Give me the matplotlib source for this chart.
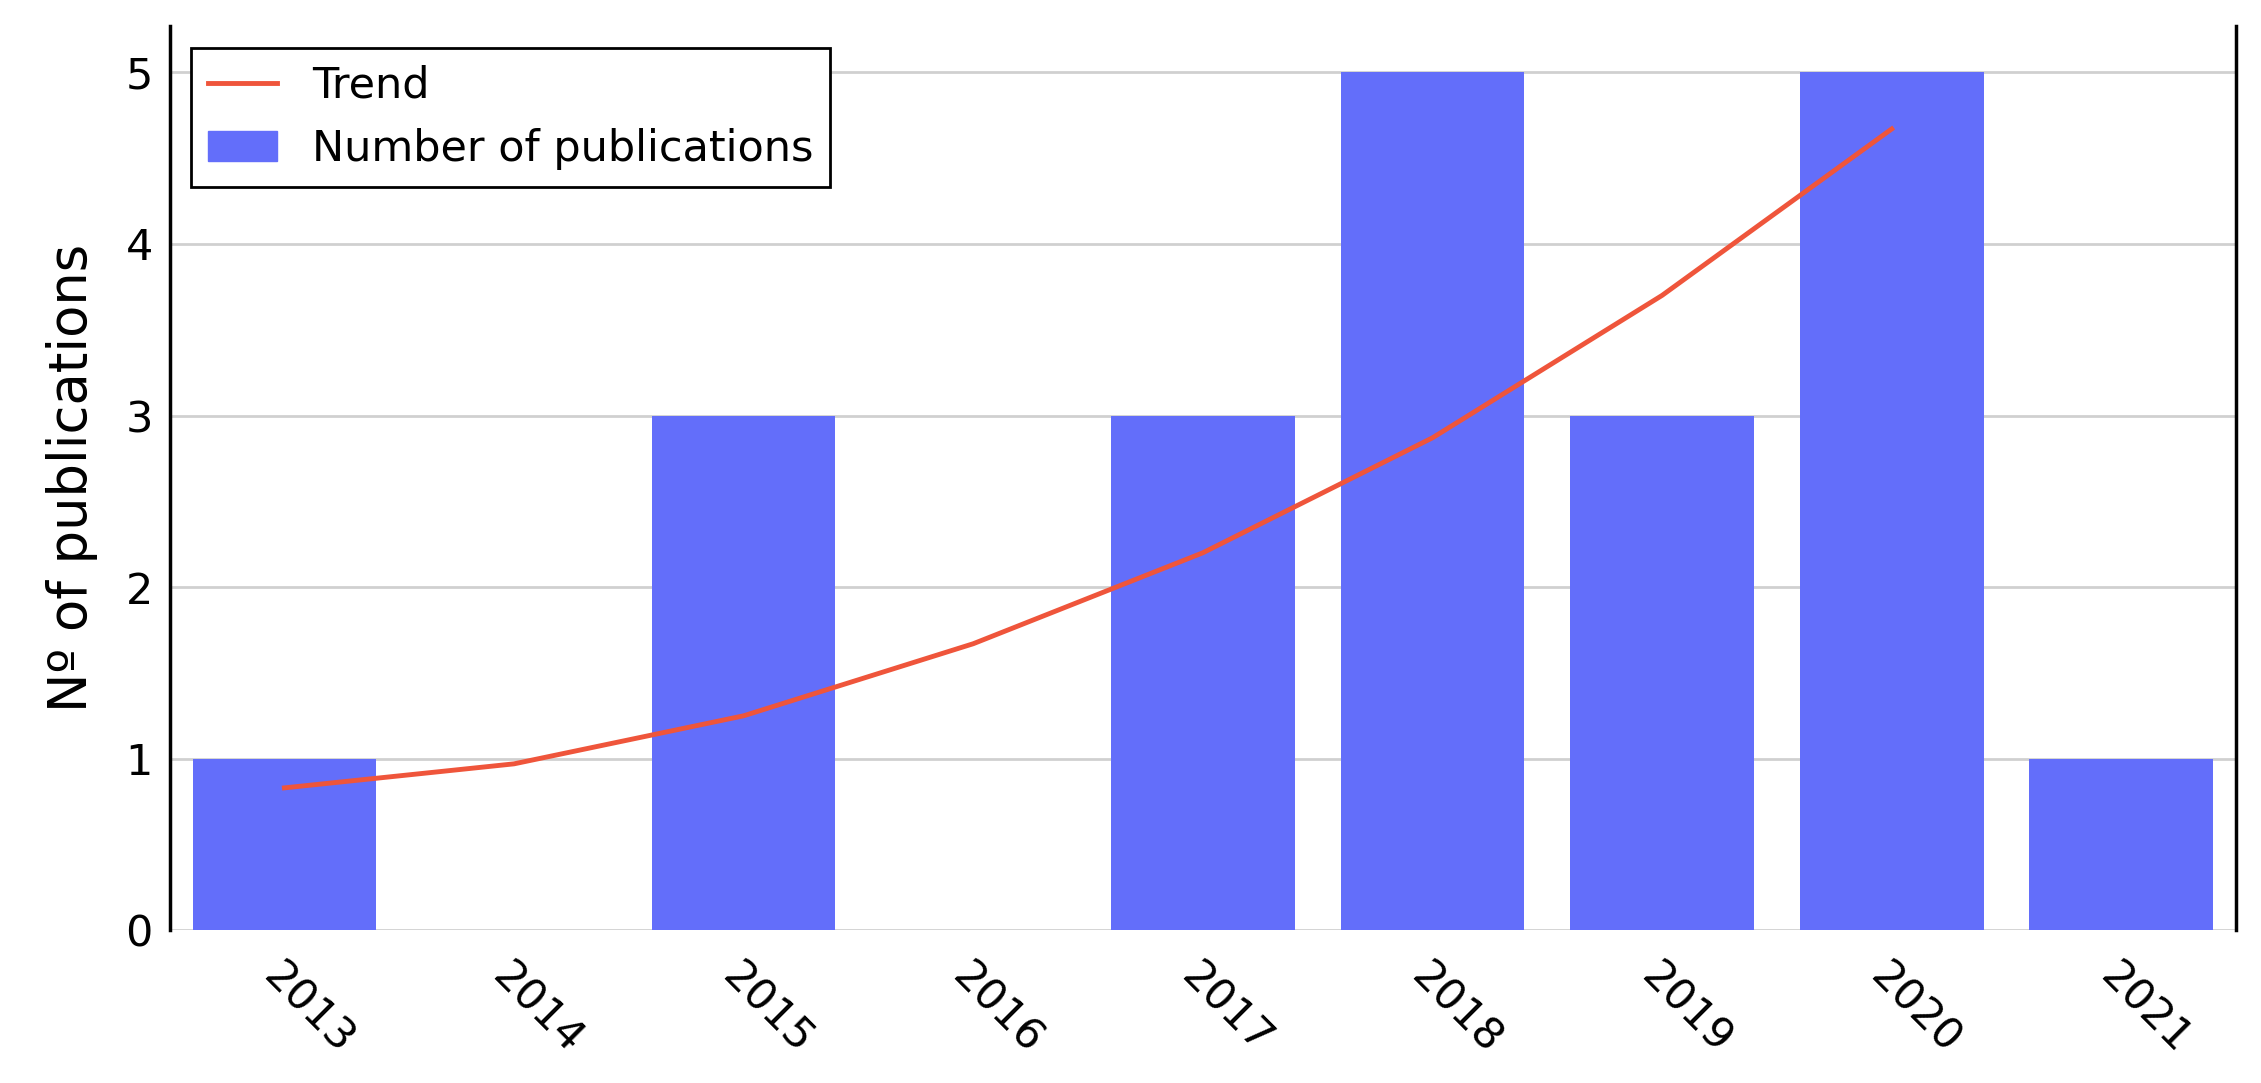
import matplotlib
matplotlib.use("Agg")
import matplotlib.pyplot as plt
from matplotlib.lines import Line2D
from matplotlib.patches import Patch

# data
years = ["2013", "2014", "2015", "2016", "2017", "2018", "2019", "2020", "2021"]
counts = [1, 0, 3, 0, 3, 5, 3, 5, 1]
trend_years = ["2013", "2014", "2015", "2016", "2017", "2018", "2019", "2020"]
trend_vals = [0.83, 0.97, 1.25, 1.67, 2.2, 2.87, 3.7, 4.67]

bar_color = "#636EFA"
line_color = "#EF553B"

fig = plt.figure(figsize=(22.61, 10.83), dpi=100)
ax = fig.add_axes([0.075, 0.141, 0.914, 0.835])

xs = list(range(len(years)))
ax.bar(xs, counts, width=0.8, color=bar_color, zorder=2)
ax.plot([years.index(y) for y in trend_years], trend_vals, color=line_color, lw=3.5, zorder=3)

ax.set_xlim(-0.5, 8.5)
ax.set_ylim(0, 5.27)
ax.set_yticks([0, 1, 2, 3, 4, 5])
ax.set_xticks(xs)
ax.set_xticklabels(years, rotation=-45, ha="left", va="top", rotation_mode="anchor")
ax.tick_params(axis="both", length=0, labelsize=31, pad=12)
ax.tick_params(axis="x", pad=18)
ax.grid(axis="y", color="#d0d0d0", lw=2, zorder=0)
ax.set_axisbelow(True)
for s in ["top", "bottom"]:
    ax.spines[s].set_visible(False)
for s in ["left", "right"]:
    ax.spines[s].set_linewidth(2.5)
ax.set_ylabel("Nº of publications", fontsize=38, labelpad=20)

handles = [Line2D([0], [0], color=line_color, lw=3.5),
           Patch(color=bar_color)]
leg = ax.legend(handles, ["Trend", "Number of publications"], loc="upper left",
                bbox_to_anchor=(0.0, 1.0), fontsize=31, fancybox=False,
                framealpha=1, edgecolor="black", handlelength=1.6,
                borderpad=0.4, labelspacing=0.5)
leg.get_frame().set_linewidth(2)

fig.savefig("out.png", dpi=100, facecolor="white")
